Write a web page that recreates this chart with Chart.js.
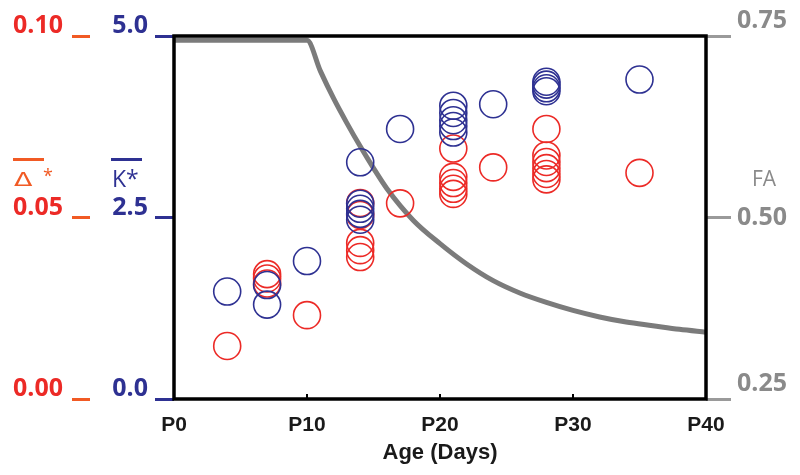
<!DOCTYPE html>
<html>
<head>
<meta charset="utf-8">
<script src="https://cdn.jsdelivr.net/npm/chart.js@4/dist/chart.umd.min.js"></script>
<style>
  html, body { margin: 0; padding: 0; background: #ffffff; }
  #wrap { width: 800px; height: 475px; position: relative; }
</style>
</head>
<body>
<div id="wrap"><canvas id="c" width="800" height="475"></canvas></div>
<script>
// ---- data ----
const xTickLabels = ['P0', 'P10', 'P20', 'P30', 'P40'];
const deltaTickLabels = ['0.00', '0.05', '0.10'];
const kTickLabels = ['0.0', '2.5', '5.0'];
const faTickLabels = ['0.25', '0.50', '0.75'];

// K* (blue circles)
const kDays   = [4, 7, 7, 10, 14, 14, 14, 14, 14, 17, 21, 21, 21, 21, 21, 24, 28, 28, 28, 28, 35];
const kValues = [1.48, 1.57, 1.30, 1.90, 3.26, 2.69, 2.62, 2.55, 2.47, 3.72, 4.04, 3.94, 3.84, 3.76, 3.67, 4.06, 4.37, 4.33, 4.28, 4.24, 4.40];

// Delta* (red circles)
const dDays   = [4, 7, 7, 7, 10, 14, 14, 14, 14, 14, 17, 21, 21, 21, 21, 21, 24, 28, 28, 28, 28, 28, 28, 35];
const dValues = [0.0146, 0.0344, 0.0332, 0.0318, 0.0231, 0.0540, 0.0507, 0.0430, 0.0410, 0.0391, 0.0539, 0.0690, 0.0612, 0.0595, 0.0579, 0.0565, 0.0638, 0.0744, 0.0671, 0.0653, 0.0636, 0.0620, 0.0605, 0.0623];

// FA (grey curve)
const faDays   = [0, 10, 11, 12, 13, 14, 15, 16, 18, 20, 22, 24, 26, 28, 30, 32, 34, 36, 38, 40];
const faValues = [0.744, 0.744, 0.702, 0.664, 0.630, 0.598, 0.568, 0.540, 0.496, 0.464, 0.436, 0.413, 0.396, 0.383, 0.372, 0.363, 0.356, 0.351, 0.346, 0.342];

const RED = '#ec2a26';
const RED_TICK = '#f15a24';
const BLUE = '#2e3192';
const GREY = '#7b7b7b';
const GREY_LABEL = '#8a8a8a';

function pts(xs, ys) { return xs.map((x, i) => ({ x: x, y: ys[i] })); }

const framePlugin = {
  id: 'frame',
  afterDatasetsDraw(chart) {
    const { ctx, chartArea: a, scales } = chart;
    ctx.save();
    ctx.strokeStyle = '#000';
    ctx.lineWidth = 2;
    [10, 20, 30].forEach(v => {
      const px = scales.x.getPixelForValue(v);
      ctx.beginPath();
      ctx.moveTo(px, a.bottom);
      ctx.lineTo(px, a.bottom - 5);
      ctx.stroke();
    });
    ctx.lineWidth = 3.5;
    ctx.strokeRect(a.left, a.top, a.right - a.left, a.bottom - a.top);
    ctx.restore();
  },
  afterDraw(chart) {
    const ctx = chart.ctx;
    ctx.save();
    ctx.textBaseline = 'alphabetic';
    // Delta* label
    ctx.fillStyle = RED_TICK;
    ctx.save();
    ctx.translate(14, 186);
    ctx.scale(1.35, 1);
    ctx.font = '20px "DejaVu Sans"';
    ctx.fillText('\u0394', 0, 0);
    ctx.restore();
    ctx.font = '18px "Open Sans"';
    ctx.fillText('*', 43, 182);
    ctx.fillRect(13, 158, 31, 3);
    // K* label
    ctx.fillStyle = BLUE;
    ctx.font = '23px "Open Sans"';
    ctx.fillText('K*', 112, 187);
    ctx.fillRect(111, 158, 31, 3);
    // FA label
    ctx.fillStyle = GREY_LABEL;
    ctx.font = '21px "Open Sans"';
    ctx.fillText('FA', 752, 186);
    ctx.restore();
  }
};

const tickFont = { family: '"Open Sans"', weight: 'bold', size: 25 };

new Chart(document.getElementById('c'), {
  type: 'scatter',
  data: {
    datasets: [
      {
        label: 'FA',
        data: pts(faDays, faValues),
        yAxisID: 'yFA',
        showLine: true,
        borderColor: GREY,
        borderWidth: 5,
        pointRadius: 0,
        cubicInterpolationMode: 'monotone',
        order: 3
      },
      {
        label: 'Delta*',
        data: pts(dDays, dValues),
        yAxisID: 'yD',
        borderColor: RED,
        backgroundColor: 'rgba(0,0,0,0)',
        pointRadius: 13.5,
        pointBorderWidth: 1.6,
        order: 2
      },
      {
        label: 'K*',
        data: pts(kDays, kValues),
        yAxisID: 'yK',
        borderColor: BLUE,
        backgroundColor: 'rgba(0,0,0,0)',
        pointRadius: 13.5,
        pointBorderWidth: 1.6,
        order: 1
      }
    ]
  },
  options: {
    responsive: false,
    animation: false,
    events: [],
    layout: { padding: { top: 36, bottom: 0, left: 0, right: 0 } },
    plugins: { legend: { display: false }, tooltip: { enabled: false } },
    scales: {
      x: {
        type: 'linear',
        min: 0, max: 40,
        afterFit: (s) => { s.height = 76; },
        grid: { display: false, drawTicks: false },
        border: { display: false },
        ticks: {
          stepSize: 10,
          padding: 14,
          color: '#1a1a1a',
          font: { family: '"Liberation Sans"', weight: 'bold', size: 21 },
          callback: (v) => xTickLabels[Math.round(v / 10)]
        },
        title: {
          display: true,
          text: 'Age (Days)',
          color: '#1a1a1a',
          padding: { top: 0, bottom: 9 },
          font: { family: '"Liberation Sans"', weight: 'bold', size: 22 }
        }
      },
      yD: {
        type: 'linear',
        position: 'left',
        weight: 2,
        min: 0, max: 0.1,
        afterFit: (s) => { s.width = 90; },
        grid: { drawOnChartArea: false, tickLength: 18, tickWidth: 3, tickColor: RED_TICK },
        border: { display: false },
        ticks: {
          stepSize: 0.05,
          padding: 9,
          labelOffset: -10,
          color: RED,
          font: tickFont,
          callback: (v) => deltaTickLabels[Math.round(v / 0.05)]
        }
      },
      yK: {
        type: 'linear',
        position: 'left',
        weight: 1,
        min: 0, max: 5,
        afterFit: (s) => { s.width = 84; },
        grid: { drawOnChartArea: false, tickLength: 19, tickWidth: 3, tickColor: BLUE },
        border: { display: false },
        ticks: {
          stepSize: 2.5,
          padding: 7,
          labelOffset: -10,
          color: BLUE,
          font: tickFont,
          callback: (v) => kTickLabels[Math.round(v / 2.5)]
        }
      },
      yFA: {
        type: 'linear',
        position: 'right',
        min: 0.25, max: 0.75,
        afterFit: (s) => { s.width = 94; },
        grid: { drawOnChartArea: false, tickLength: 25, tickWidth: 3, tickColor: '#9a9a9a' },
        border: { display: false },
        ticks: {
          stepSize: 0.25,
          padding: 6,
          color: GREY_LABEL,
          font: tickFont,
          callback: (v) => {
            const i = Math.round((v - 0.25) / 0.25);
            const t = faTickLabels[i];
            return i === 1 ? t : [t, ''];
          }
        }
      }
    }
  },
  plugins: [framePlugin]
});
</script>
</body>
</html>
